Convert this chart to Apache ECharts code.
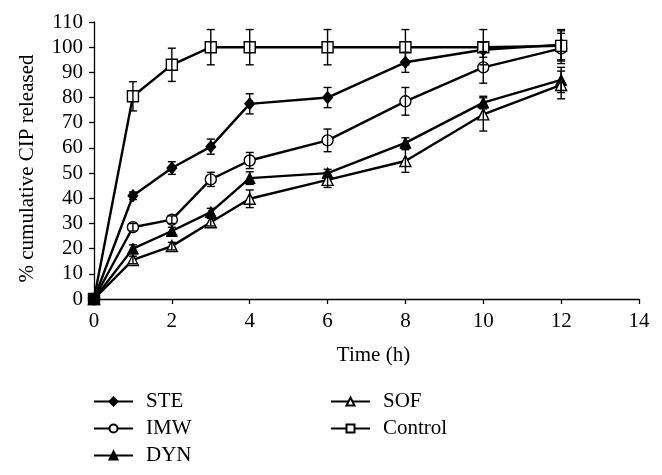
<!DOCTYPE html>
<html>
<head>
<meta charset="utf-8">
<script src="https://cdn.jsdelivr.net/npm/echarts@6/dist/echarts.min.js"></script>
<style>
  html, body { margin: 0; padding: 0; background: #fff; }
  #chart { width: 662px; height: 475px; }
</style>
</head>
<body>
<div id="chart"></div>
<script>
// Data
const times = [0, 1, 2, 3, 4, 6, 8, 10, 12];
const xTicks = [0, 2, 4, 6, 8, 10, 12, 14];
const yTicks = [0, 10, 20, 30, 40, 50, 60, 70, 80, 90, 100, 110];

const STE = [0, 41, 52, 60.5, 77.5, 80, 94, 99, 101];
const STE_err = [0, 1.5, 2.5, 3, 4, 4, 4, 3, 6];
const IMW = [0, 28.5, 31.5, 47.5, 55, 63, 78.5, 92, 99.5];
const IMW_err = [0, 1.5, 1.5, 2.8, 3.2, 4.5, 5.5, 6.3, 6];
const DYN = [0, 20, 27, 34.5, 48, 50, 62, 78, 87];
const DYN_err = [0, 1.5, 1.5, 1.5, 2.5, 1.5, 2, 2.5, 5];
const SOF = [0, 15.5, 21, 30.5, 39.8, 47.3, 54.8, 73.3, 85];
const SOF_err = [0, 1.5, 1.5, 1.5, 3.5, 3, 4.5, 6.6, 5.5];
const Control = [0, 80.5, 93, 100, 100, 100, 100, 100, 100.5];
const Control_err = [0, 5.8, 6.6, 7, 7, 7, 7, 7, 6];

const FONT = 'Liberation Serif';
const BLACK = '#000';

function pairs(vals) { return times.map((t, i) => [t, vals[i]]); }
function triples(vals, errs) {
  return times.map((t, i) => [t, vals[i], errs[i]]).filter(d => d[2] > 0);
}

function lineSeries(name, vals, symbol, size, filled, z) {
  const data = pairs(vals).map((p, i) => {
    // all series meet at the origin, which reads as one solid black marker
    if (i === 0) return { value: p, itemStyle: { color: BLACK } };
    return p;
  });
  return {
    name: name,
    type: 'line',
    data: data,
    symbol: symbol,
    symbolSize: size,
    showAllSymbol: true,
    lineStyle: { color: BLACK, width: 2.4 },
    itemStyle: filled
      ? { color: BLACK, borderColor: BLACK, borderWidth: 1 }
      : { color: '#fff', borderColor: BLACK, borderWidth: 1.4 },
    emphasis: { disabled: true },
    z: z,
    animation: false
  };
}

function errSeries(vals, errs) {
  return {
    type: 'custom',
    data: triples(vals, errs),
    z: 10,
    silent: true,
    animation: false,
    renderItem: function (params, api) {
      const x = api.value(0), y = api.value(1), e = api.value(2);
      const hi = api.coord([x, y + e]);
      const lo = api.coord([x, y - e]);
      const w = 4;
      const st = { stroke: BLACK, lineWidth: 1.4 };
      return {
        type: 'group',
        children: [
          { type: 'line', shape: { x1: hi[0], y1: hi[1], x2: lo[0], y2: lo[1] }, style: st },
          { type: 'line', shape: { x1: hi[0] - w, y1: hi[1], x2: hi[0] + w, y2: hi[1] }, style: st },
          { type: 'line', shape: { x1: lo[0] - w, y1: lo[1], x2: lo[0] + w, y2: lo[1] }, style: st }
        ]
      };
    }
  };
}

const chart = echarts.init(document.getElementById('chart'), null, { renderer: 'canvas' });

const legendText = { fontFamily: FONT, fontSize: 21, color: BLACK, padding: [0, 0, 0, 8] };

chart.setOption({
  backgroundColor: '#fff',
  animation: false,
  textStyle: { fontFamily: FONT },
  grid: { left: 94, right: 23, top: 22, bottom: 176, containLabel: false },
  legend: [
    {
      data: ['STE', 'IMW', 'DYN'],
      orient: 'vertical',
      left: 88, top: 386,
      itemWidth: 39, itemHeight: 10, itemGap: 6,
      textStyle: legendText,
      selectedMode: false
    },
    {
      data: ['SOF', 'Control'],
      orient: 'vertical',
      left: 325, top: 386,
      itemWidth: 39, itemHeight: 10, itemGap: 6,
      textStyle: legendText,
      selectedMode: false
    }
  ],
  xAxis: {
    type: 'value',
    min: xTicks[0], max: xTicks[xTicks.length - 1], interval: 2,
    name: 'Time (h)',
    nameLocation: 'middle',
    nameGap: 46,
    nameTextStyle: { fontFamily: FONT, fontSize: 21, color: BLACK, padding: [0, 0, 0, 14] },
    axisLine: { show: true, lineStyle: { color: BLACK, width: 1.3 } },
    axisTick: { show: true, length: 5, lineStyle: { color: BLACK, width: 1.3 } },
    axisLabel: { fontFamily: FONT, fontSize: 21, color: BLACK, margin: 12 },
    splitLine: { show: false }
  },
  yAxis: {
    type: 'value',
    min: yTicks[0], max: yTicks[yTicks.length - 1], interval: 10,
    name: '% cumulative CIP released',
    nameLocation: 'middle',
    nameGap: 56,
    nameRotate: 90,
    nameTextStyle: { fontFamily: FONT, fontSize: 21, color: BLACK, padding: [0, 16, 0, 0] },
    axisLine: { show: true, lineStyle: { color: BLACK, width: 1.3 } },
    axisTick: { show: true, length: 5, lineStyle: { color: BLACK, width: 1.3 } },
    axisLabel: { fontFamily: FONT, fontSize: 21, color: BLACK, margin: 11 },
    splitLine: { show: false }
  },
  series: [
    lineSeries('STE', STE, 'diamond', [10, 12], true, 3),
    lineSeries('IMW', IMW, 'circle', 11, false, 3),
    lineSeries('DYN', DYN, 'triangle', 11, true, 3),
    lineSeries('SOF', SOF, 'triangle', 11, false, 3),
    lineSeries('Control', Control, 'rect', 11, false, 4),
    errSeries(STE, STE_err),
    errSeries(IMW, IMW_err),
    errSeries(DYN, DYN_err),
    errSeries(SOF, SOF_err),
    errSeries(Control, Control_err)
  ]
});
</script>
</body>
</html>
